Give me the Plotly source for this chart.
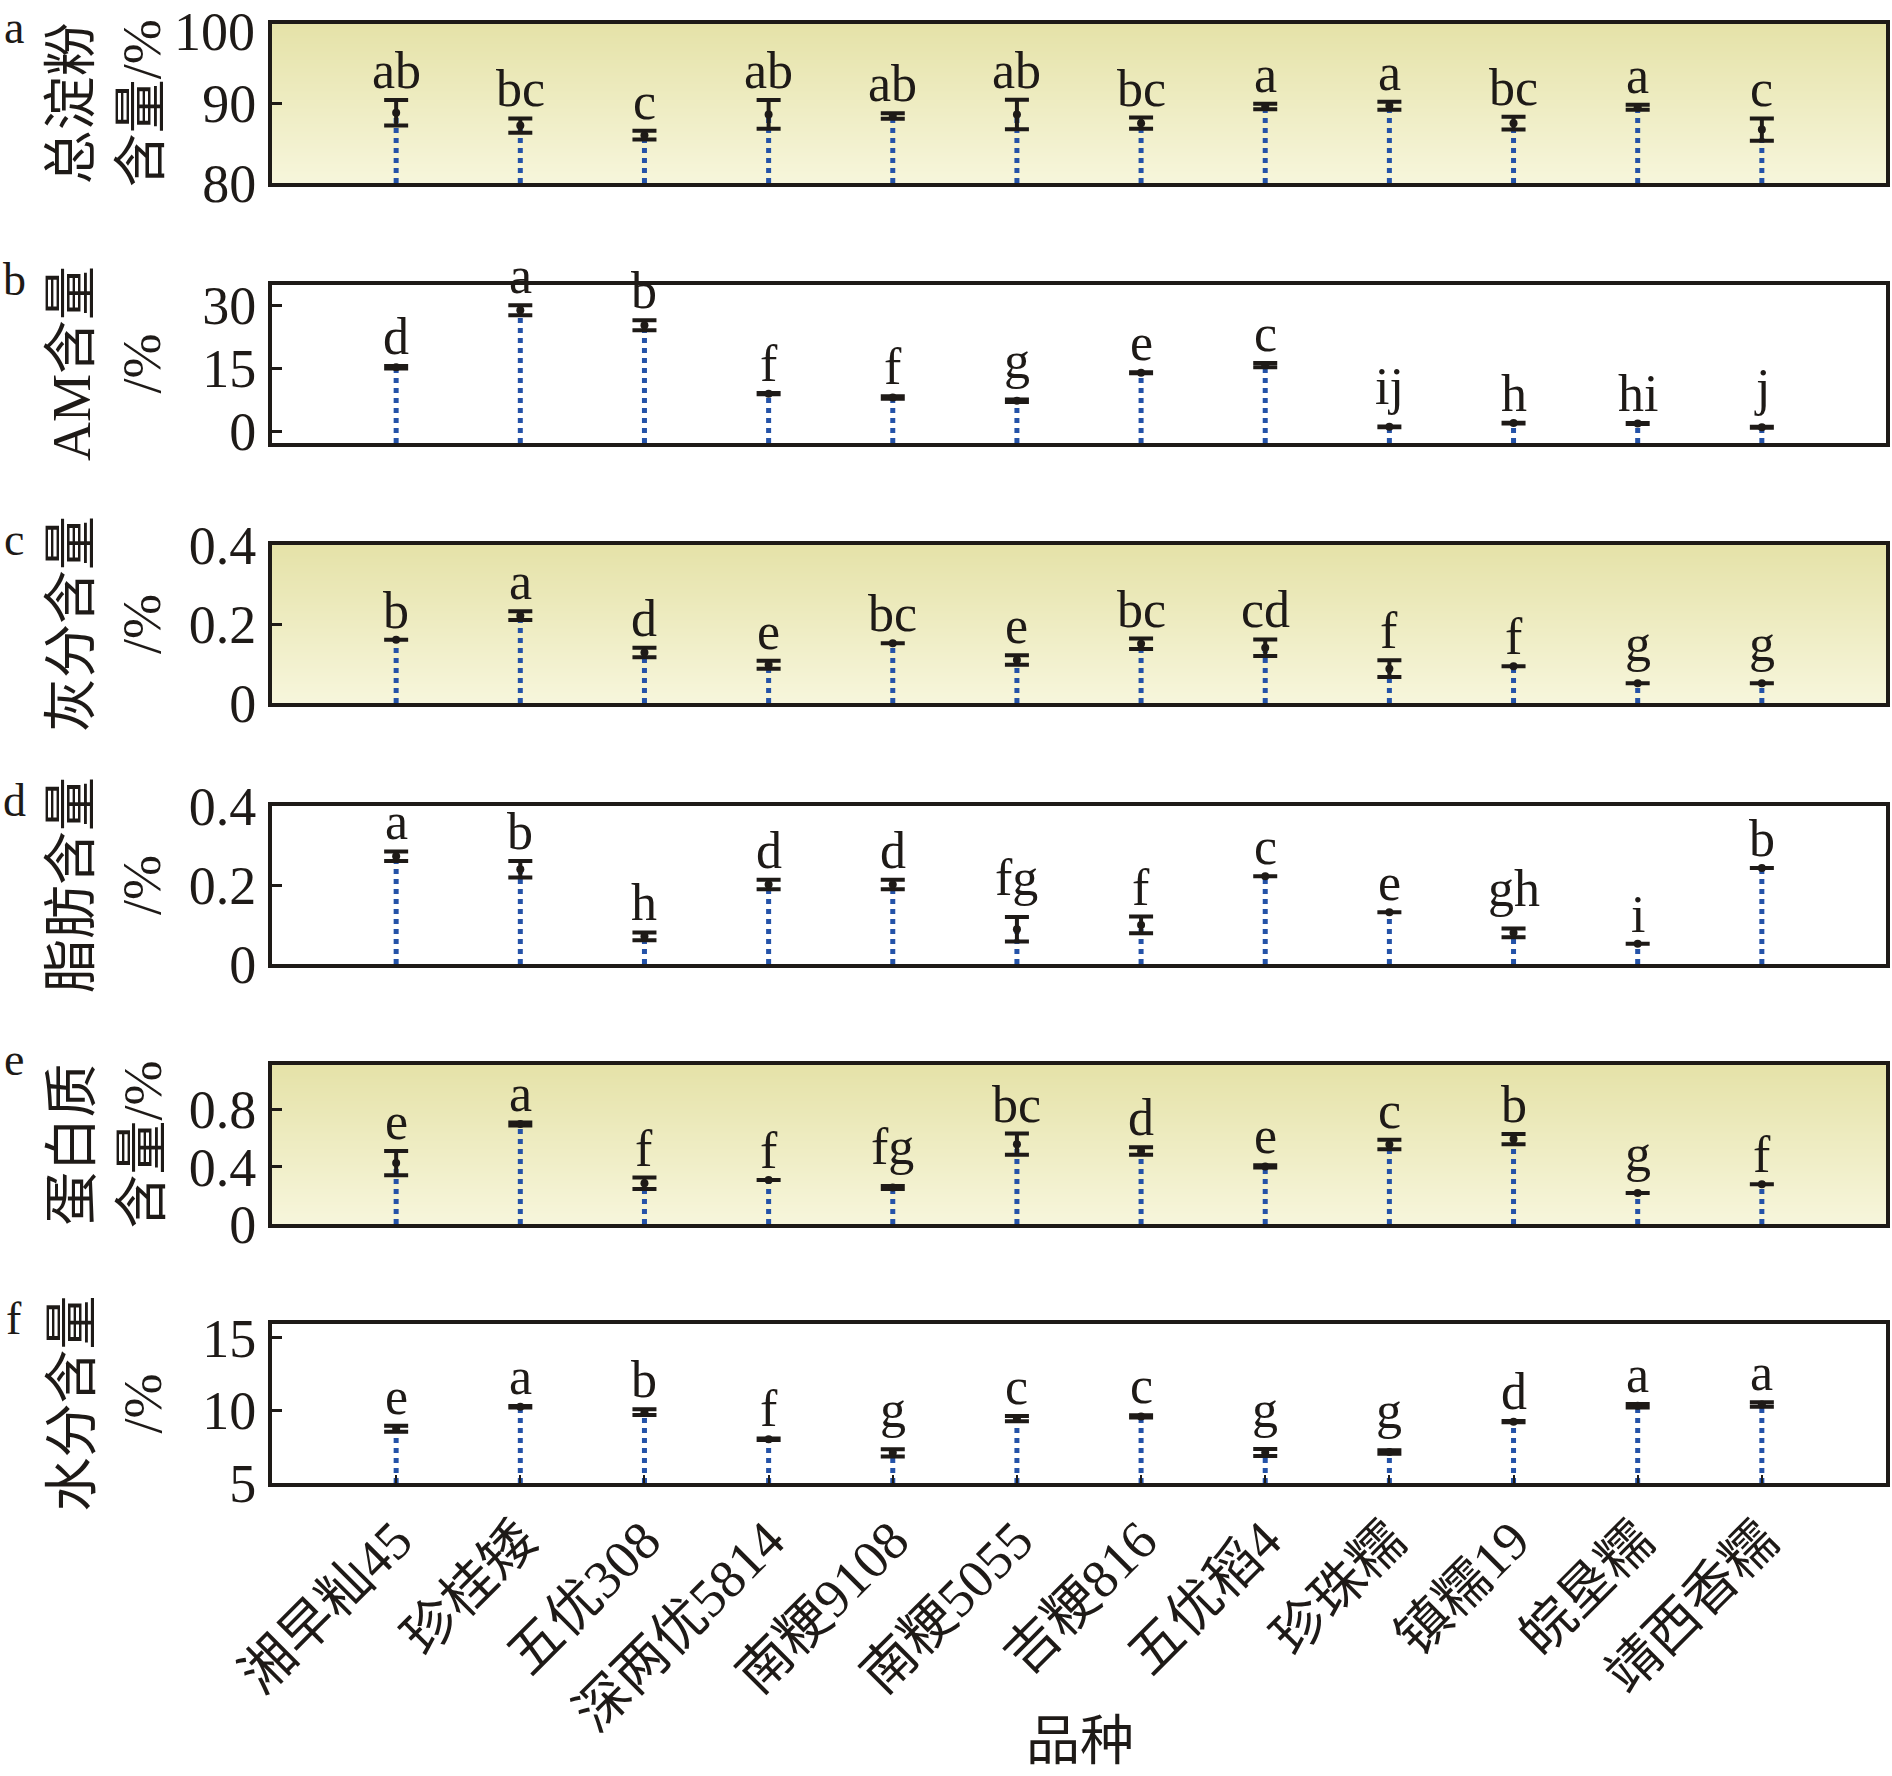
import plotly.graph_objects as go

# ---------------- data ----------------
categories = ["湘早籼45", "珍桂矮", "五优308", "深两优5814", "南粳9108", "南粳5055",
              "吉粳816", "五优稻4", "珍珠糯", "镇糯19", "皖垦糯", "靖西香糯"]

starch = [88.8, 87.2, 86.0, 88.6, 88.4, 88.6, 87.5, 89.6, 89.7, 87.5, 89.5, 86.7]
starch_err = [1.6, 0.9, 0.55, 1.8, 0.35, 1.85, 0.7, 0.35, 0.5, 0.8, 0.3, 1.4]
starch_sig = ["ab", "bc", "c", "ab", "ab", "ab", "bc", "a", "a", "bc", "a", "c"]

amylose = [15.2, 28.8, 25.2, 8.9, 8.0, 7.2, 13.9, 15.7, 1.0, 1.9, 1.8, 0.9]
amylose_err = [0.3, 1.2, 1.2, 0.15, 0.3, 0.3, 0.12, 0.5, 0.1, 0.1, 0.1, 0.1]
amylose_sig = ["d", "a", "b", "f", "f", "g", "e", "c", "ij", "h", "hi", "j"]

ash = [0.160, 0.221, 0.128, 0.097, 0.151, 0.109, 0.150, 0.140, 0.087, 0.093, 0.050, 0.050]
ash_err = [None, 0.011, 0.012, 0.010, None, 0.012, 0.013, 0.021, 0.021, None, None, None]
ash_sig = ["b", "a", "d", "e", "bc", "e", "bc", "cd", "f", "f", "g", "g"]

fat = [0.273, 0.240, 0.070, 0.201, 0.201, 0.088, 0.099, 0.222, 0.131, 0.079, 0.051, 0.243]
fat_err = [0.012, 0.021, 0.010, 0.012, 0.012, 0.031, 0.021, None, None, 0.011, None, None]
fat_sig = ["a", "b", "h", "d", "d", "fg", "f", "c", "e", "gh", "i", "b"]

protein = [0.425, 0.698, 0.284, 0.307, 0.255, 0.557, 0.509, 0.402, 0.555, 0.593, 0.216, 0.277]
protein_err = [0.085, 0.01, 0.04, None, 0.01, 0.074, 0.026, 0.008, 0.034, 0.036, None, None]
protein_sig = ["e", "a", "f", "f", "fg", "bc", "d", "e", "c", "b", "g", "f"]

moisture = [8.74, 10.26, 9.88, 8.02, 7.08, 9.43, 9.59, 7.10, 7.13, 9.23, 10.32, 10.41]
moisture_err = [0.2, 0.05, 0.2, 0.05, 0.25, 0.18, 0.08, 0.24, 0.12, 0.05, 0.12, 0.15]
moisture_sig = ["e", "a", "b", "f", "g", "c", "c", "g", "g", "d", "a", "a"]

y_titles = ["总淀粉<br>含量/%", "AM含量<br>/%", "灰分含量<br>/%", "脂肪含量<br>/%",
            "蛋白质<br>含量/%", "水分含量<br>/%"]
panel_tags = ["a", "b", "c", "d", "e", "f"]
y_ranges = [[80, 100], [-2.85, 34.8], [0, 0.4], [0, 0.4], [0, 1.11], [5, 15.96]]
y_ticks = [[80, 90, 100], [0, 15, 30], [0, 0.2, 0.4], [0, 0.2, 0.4], [0, 0.4, 0.8], [5, 10, 15]]
x_title = "品种"

# ---------------- layout helpers ----------------
W, H = 1892, 1776
INK = "#1e1a17"
STEM = "#2452a8"
SERIF = "Liberation Serif, Noto Sans CJK SC"
# panel frame line centres (px from top)
frames = [(21.5, 185), (283, 445), (543, 705), (804, 966), (1063, 1226), (1322, 1485)]
shaded = [True, False, True, False, True, False]
X_LEFT, X_RIGHT = 272, 1886
DESCENDERS = set("gjpqy")

def pyf(p):
    return 1 - p / H

def pxf(p):
    return p / W

values = [starch, amylose, ash, fat, protein, moisture]
errors = [starch_err, amylose_err, ash_err, fat_err, protein_err, moisture_err]
sigs = [starch_sig, amylose_sig, ash_sig, fat_sig, protein_sig, moisture_sig]

xs = list(range(len(categories)))
fig = go.Figure()
annotations = []

for k in range(6):
    n = k + 1
    xa = "x" if n == 1 else f"x{n}"
    ya = "y" if n == 1 else f"y{n}"
    lo, hi = y_ranges[k]
    if shaded[k]:
        fig.add_trace(go.Heatmap(
            x=[-1, 12], y=[lo, hi], z=[[0, 0], [1, 1]],
            colorscale=[[0, "#f7f6dc"], [1, "#e5e2a8"]], zsmooth="best",
            showscale=False, hoverinfo="skip", xaxis=xa, yaxis=ya))
    # dotted stems
    sx, sy = [], []
    for i, v in zip(xs, values[k]):
        sx += [i, i, None]
        sy += [lo, v, None]
    fig.add_trace(go.Scatter(x=sx, y=sy, mode="lines",
                             line=dict(color=STEM, width=5, dash="5px,5px"),
                             hoverinfo="skip", showlegend=False, xaxis=xa, yaxis=ya))
    # points + error bars
    fig.add_trace(go.Scatter(
        x=xs, y=values[k], mode="markers",
        marker=dict(color=INK, size=8),
        error_y=dict(type="data", array=errors[k], color=INK, thickness=4, width=12),
        showlegend=False, xaxis=xa, yaxis=ya))
    # significance letters
    for i, v, e, s in zip(xs, values[k], errors[k], sigs[k]):
        top = v + (e if e is not None else 0)
        shift = 9 if DESCENDERS & set(s) else -1
        annotations.append(dict(x=i, y=top, xref=xa, yref=ya, text=s, showarrow=False,
                                yanchor="bottom", xanchor="center", yshift=shift,
                                font=dict(family=SERIF, size=52, color=INK)))
    t, b = frames[k]
    dom = [pyf(b - 2), pyf(t + 2)]
    xkey = "xaxis" if n == 1 else f"xaxis{n}"
    ykey = "yaxis" if n == 1 else f"yaxis{n}"
    last = (k == 5)
    tick_text = [f"{v:g}" for v in y_ticks[k]]
    if k == 0:
        # the top label sits on the page edge: draw it as an annotation kept inside
        annotations.append(dict(x=pxf(257), y=1, xref="paper", yref="paper",
                                text=tick_text[-1], showarrow=False,
                                xanchor="right", yanchor="top",
                                font=dict(family=SERIF, size=54, color=INK)))
        tick_text[-1] = ""
    fig.update_layout({
        xkey: dict(domain=[pxf(X_LEFT), pxf(X_RIGHT)], range=[-1, 12], anchor=ya,
                   showline=True, mirror=True, linewidth=4, linecolor=INK,
                   showgrid=False, zeroline=False,
                   tickmode="array", tickvals=xs,
                   ticktext=categories if last else [""] * len(xs),
                   showticklabels=last, ticks="inside" if last else "",
                   ticklen=8, tickwidth=2, tickcolor=INK, tickangle=-45,
                   tickfont=dict(family=SERIF, size=54, color=INK),
                   ticklabeloverflow="allow", automargin=False),
        ykey: dict(domain=dom, range=[lo, hi], anchor=xa,
                   showline=True, mirror=True, linewidth=4, linecolor=INK,
                   showgrid=False, zeroline=False,
                   tickmode="array", tickvals=y_ticks[k], ticktext=tick_text,
                   ticks="inside", ticklen=10, tickwidth=3, tickcolor=INK,
                   ticklabelstandoff=1, ticklabeloverflow="allow",
                   tickfont=dict(family=SERIF, size=54, color=INK),
                   automargin=False),
    })
    # y-axis title
    annotations.append(dict(x=pxf(107), y=pyf((t + b) / 2), xref="paper", yref="paper",
                            text=y_titles[k], textangle=-90, showarrow=False,
                            xanchor="center", yanchor="middle", align="center",
                            font=dict(family=SERIF, size=54, color=INK)))
    # panel tag
    if k == 0:
        annotations.append(dict(x=pxf(14), y=1, xref="paper", yref="paper",
                                text=panel_tags[k], showarrow=False,
                                xanchor="center", yanchor="top",
                                font=dict(family=SERIF, size=46, color=INK)))
    else:
        annotations.append(dict(x=pxf(14), y=pyf(t - 4), xref="paper", yref="paper",
                                text=panel_tags[k], showarrow=False,
                                xanchor="center", yanchor="middle",
                                font=dict(family=SERIF, size=46, color=INK)))

annotations.append(dict(x=pxf(1080), y=pyf(1742), xref="paper", yref="paper",
                        text=x_title, showarrow=False, xanchor="center", yanchor="middle",
                        font=dict(family=SERIF, size=54, color=INK)))

fig.update_layout(width=W, height=H, margin=dict(l=0, r=0, t=0, b=0),
                  paper_bgcolor="white", plot_bgcolor="white",
                  showlegend=False, annotations=annotations,
                  template="none")

fig.write_html("out.html", config={"displayModeBar": False},
               post_script="document.body.style.margin='0';document.body.style.overflow='hidden';")
